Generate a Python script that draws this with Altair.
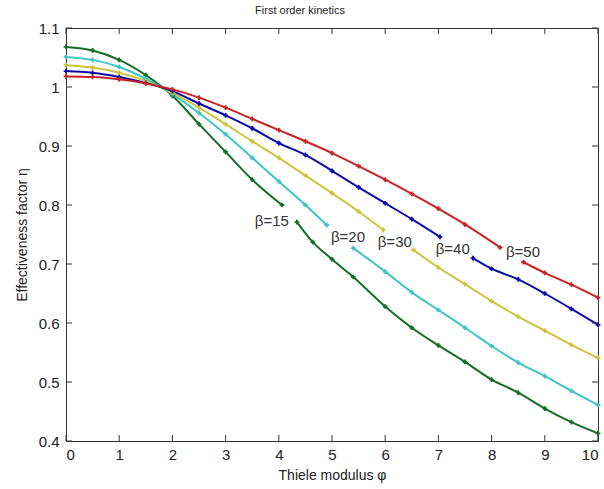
import altair as alt
import pandas as pd

# ---- data ----
betas = ["β=15", "β=20", "β=30", "β=40", "β=50"]

x_b15 = [0, 0.5, 1, 1.5, 2, 2.5, 3, 3.5, 4.06, 4.34, 4.64, 5, 5.4, 6, 6.5, 7, 7.5, 8, 8.5, 9, 9.5, 10]
y_b15 = [1.068, 1.062, 1.046, 1.02, 0.985, 0.937, 0.89, 0.843, 0.800, 0.771, 0.737, 0.708, 0.678, 0.628,
         0.592, 0.562, 0.534, 0.504, 0.482, 0.455, 0.432, 0.413]

x_b20 = [0, 0.5, 1, 1.5, 2, 2.5, 3, 3.5, 4, 4.5, 4.9, 5.4, 6, 6.5, 7, 7.5, 8, 8.5, 9, 9.5, 10]
y_b20 = [1.051, 1.046, 1.034, 1.014, 0.988, 0.956, 0.92, 0.88, 0.84, 0.80, 0.766, 0.727, 0.687, 0.652,
         0.622, 0.592, 0.561, 0.533, 0.51, 0.485, 0.461]

x_b30 = [0, 0.5, 1, 1.5, 2, 2.5, 3, 3.5, 4, 4.5, 5, 5.5, 5.96, 6.53, 7, 7.5, 8, 8.5, 9, 9.5, 10]
y_b30 = [1.037, 1.033, 1.024, 1.01, 0.99, 0.965, 0.937, 0.908, 0.88, 0.85, 0.82, 0.789, 0.758, 0.724,
         0.694, 0.666, 0.637, 0.611, 0.587, 0.563, 0.541]

x_b40 = [0, 0.5, 1, 1.5, 2, 2.5, 3, 3.5, 4, 4.5, 5, 5.5, 6, 6.5, 7.03, 7.65, 8, 8.5, 9, 9.5, 10]
y_b40 = [1.027, 1.024, 1.017, 1.007, 0.993, 0.972, 0.952, 0.93, 0.905, 0.885, 0.858, 0.83, 0.803, 0.776,
         0.746, 0.710, 0.692, 0.674, 0.65, 0.624, 0.597]

x_b50 = [0, 0.5, 1, 1.5, 2, 2.5, 3, 3.5, 4, 4.5, 5, 5.5, 6, 6.5, 7, 7.5, 8.16, 8.6, 9, 9.5, 10]
y_b50 = [1.018, 1.017, 1.013, 1.006, 0.996, 0.982, 0.965, 0.946, 0.927, 0.908, 0.888, 0.866, 0.843, 0.819,
         0.794, 0.767, 0.728, 0.703, 0.685, 0.665, 0.643]

# where each curve is broken for its in-line label (line resumes at this x)
resume_x = [4.34, 5.4, 6.53, 7.65, 8.6]

label_x = [3.87, 5.30, 6.18, 7.27, 8.59]
label_y = [0.773, 0.746, 0.737, 0.725, 0.720]

x_ticks = [0, 1, 2, 3, 4, 5, 6, 7, 8, 9, 10]
y_ticks = [0.4, 0.5, 0.6, 0.7, 0.8, 0.9, 1.0, 1.1]

colors = ["#146e26", "#3ec4c4", "#cdc43e", "#0c0ca6", "#c82424"]

# ---- build tables ----
rows = []
for name, xs, ys, rx in zip(betas, [x_b15, x_b20, x_b30, x_b40, x_b50],
                            [y_b15, y_b20, y_b30, y_b40, y_b50], resume_x):
    for xv, yv in zip(xs, ys):
        rows.append({"beta": name, "phi": xv, "eta": yv,
                     "seg": name + ("b" if xv >= rx else "a")})
df = pd.DataFrame(rows)
labels = pd.DataFrame({"beta": betas, "phi": label_x, "eta": label_y})
xt = pd.DataFrame({"t": x_ticks})
yt = pd.DataFrame({"t": y_ticks})

W, H = 532, 413
FONT = "Liberation Sans"

xscale = alt.Scale(domain=[0, 10], nice=False, zero=False)
yscale = alt.Scale(domain=[0.4, 1.1], nice=False, zero=False)
color = alt.Color("beta:N", scale=alt.Scale(domain=betas, range=colors), legend=None)

lines = alt.Chart(df).mark_line(
    strokeWidth=2, interpolate="monotone",
    point=alt.OverlayMarkDef(shape="cross", size=22, filled=True)
).encode(
    x=alt.X("phi:Q", scale=xscale,
            axis=alt.Axis(values=x_ticks, title="Thiele modulus  φ", format=".1~f")),
    y=alt.Y("eta:Q", scale=yscale,
            axis=alt.Axis(values=y_ticks, title="Effectiveness factor η", format=".1~f")),
    color=color,
    detail="seg:N",
)

text = alt.Chart(labels).mark_text(
    font=FONT, fontSize=15, color="#333333", align="center", baseline="middle"
).encode(
    x=alt.X("phi:Q", scale=xscale),
    y=alt.Y("eta:Q", scale=yscale),
    text="beta:N",
)

tick_style = dict(color="#333333", strokeWidth=1)
xb = alt.Chart(xt).mark_rule(**tick_style).encode(
    x=alt.X("t:Q", scale=xscale), y=alt.value(H), y2=alt.value(H - 6))
xtop = alt.Chart(xt).mark_rule(**tick_style).encode(
    x=alt.X("t:Q", scale=xscale), y=alt.value(0), y2=alt.value(6))
yl = alt.Chart(yt).mark_rule(**tick_style).encode(
    y=alt.Y("t:Q", scale=yscale), x=alt.value(0), x2=alt.value(6))
yr = alt.Chart(yt).mark_rule(**tick_style).encode(
    y=alt.Y("t:Q", scale=yscale), x=alt.value(W), x2=alt.value(W - 6))

chart = alt.layer(lines, text, xb, xtop, yl, yr).properties(
    width=W, height=H,
    autosize="none",
    padding={"left": 66, "top": 28, "right": 6, "bottom": 48},
    background="white",
    title=alt.TitleParams("First order kinetics", font=FONT, fontSize=11,
                          fontWeight="normal", color="#222222",
                          anchor="middle", dx=-32, offset=5),
).configure_view(
    stroke="#333333", strokeWidth=1
).configure_axis(
    grid=False, ticks=False, domainColor="#333333", domainWidth=1,
    labelFont=FONT, labelFontSize=15, labelColor="#222222",
    titleFont=FONT, titleFontSize=14, titleFontWeight="normal", titleColor="#222222",
).configure_axisX(
    labelPadding=6, titlePadding=6
).configure_axisY(
    labelPadding=7, titlePadding=9
)

chart.save("out.html", embed_options={"renderer": "svg", "actions": False})
